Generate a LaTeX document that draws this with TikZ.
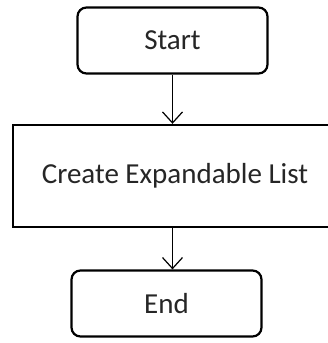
\documentclass[tikz,border=0pt]{standalone}
\usepackage{fontspec}
\setmainfont{Carlito}
\usetikzlibrary{arrows.meta}
\begin{document}
\begin{tikzpicture}[x=1pt,y=-1pt,
  term/.style={draw=black,line width=2.2pt,rounded corners=9pt,minimum width=190pt,minimum height=66pt,inner sep=0pt,font=\fontsize{29}{34}\selectfont,text=black!85},
  procbox/.style={draw=black,line width=2.4pt,minimum width=324pt,minimum height=102pt,inner sep=0pt,font=\fontsize{29}{34}\selectfont,text=black!85},
  flow/.style={line width=1.2pt,-{Straight Barb[length=11pt,width=20pt,line width=1.2pt]}}]
\useasboundingbox (0,0) rectangle (327,343);
\fill[white] (0,0) rectangle (327,343);
\node[term] (start) at (172.5,40.5) {Start};
\node[procbox] (create) at (175,176) {Create Expandable List};
\node[term] (end) at (166.5,303.5) {End};
\draw[flow] (start.south) -- (create.north -| start.south);
\draw[flow] (create.south -| start.south) -- (end.north -| start.south);
\end{tikzpicture}
\end{document}
